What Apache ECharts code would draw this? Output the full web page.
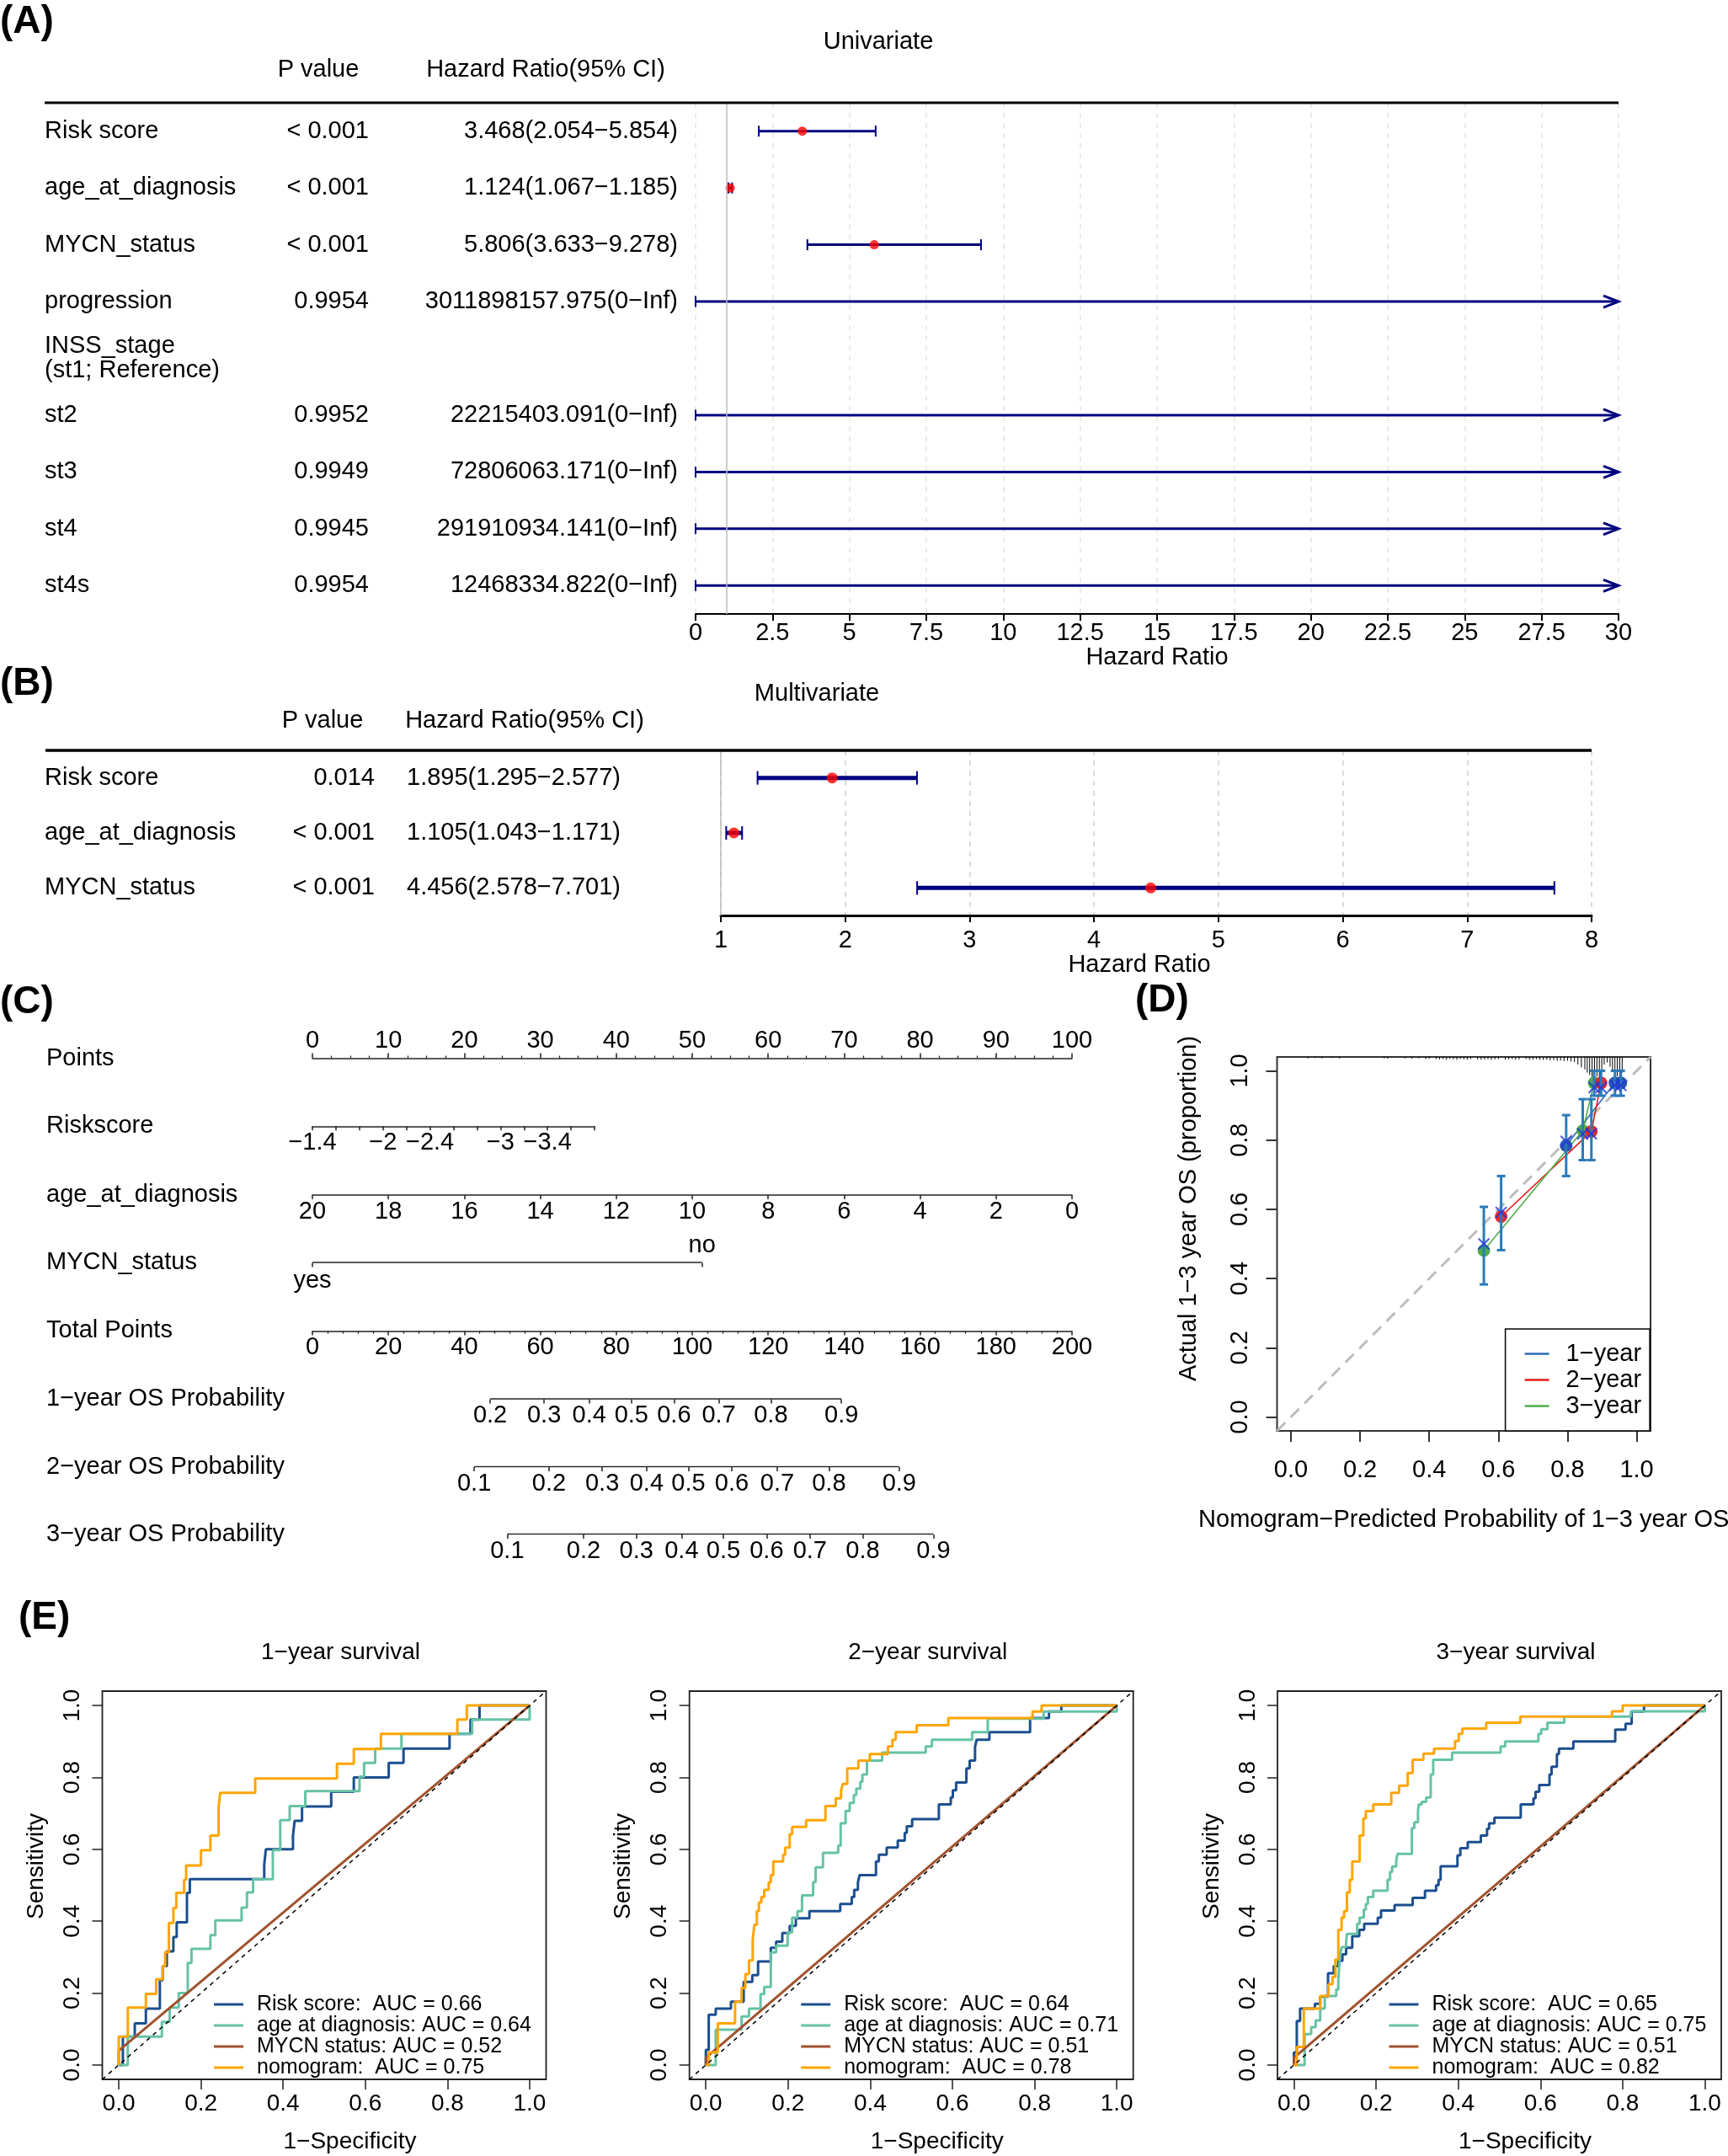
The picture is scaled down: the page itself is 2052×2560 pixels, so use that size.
<!DOCTYPE html>
<html>
<head>
<meta charset="utf-8">
<script src="https://cdn.jsdelivr.net/npm/echarts@6/dist/echarts.min.js"></script>
<style>html,body{margin:0;padding:0;background:#fff}#c{width:2052px;height:2560px}</style>
</head>
<body>
<div id="c"></div>
<script>
// ================= DATA =================
// (A) Univariate Cox
const uniVars = ['Risk score','age_at_diagnosis','MYCN_status','progression','INSS_stage\n(st1; Reference)','st2','st3','st4','st4s'];
const uniP = ['< 0.001','< 0.001','< 0.001','0.9954','','0.9952','0.9949','0.9945','0.9954'];
const uniHRText = ['3.468(2.054\u22125.854)','1.124(1.067\u22121.185)','5.806(3.633\u22129.278)','3011898157.975(0\u2212Inf)','','22215403.091(0\u2212Inf)','72806063.171(0\u2212Inf)','291910934.141(0\u2212Inf)','12468334.822(0\u2212Inf)'];
const uniHR = [3.468,1.124,5.806,3011898157.975,null,22215403.091,72806063.171,291910934.141,12468334.822];
const uniLo = [2.054,1.067,3.633,0,null,0,0,0,0];
const uniHi = [5.854,1.185,9.278,Infinity,null,Infinity,Infinity,Infinity,Infinity];
// (B) Multivariate Cox
const multiVars = ['Risk score','age_at_diagnosis','MYCN_status'];
const multiP = ['0.014','< 0.001','< 0.001'];
const multiHRText = ['1.895(1.295\u22122.577)','1.105(1.043\u22121.171)','4.456(2.578\u22127.701)'];
const multiHR = [1.895,1.105,4.456];
const multiLo = [1.295,1.043,2.578];
const multiHi = [2.577,1.171,7.701];
// (C) Nomogram
const riskscoreLabels = [-1.4,-2,-2.4,-3,-3.4];
const mycnLevels = ['yes','no'];
const mycnPoints = [0,51.3];
const os1Labels = [0.2,0.3,0.4,0.5,0.6,0.7,0.8,0.9];
const os1Total = [46.8,61.0,72.9,84.0,95.2,107.0,120.7,139.3];
const os2Labels = [0.1,0.2,0.3,0.4,0.5,0.6,0.7,0.8,0.9];
const os2Total = [42.6,62.3,76.3,88.0,99.0,110.4,122.4,136.0,154.5];
const os3Labels = [0.1,0.2,0.3,0.4,0.5,0.6,0.7,0.8,0.9];
const os3Total = [51.3,71.4,85.3,97.2,108.2,119.6,131.0,144.9,163.5];
// (D) Calibration
const calTicks = [0,0.2,0.4,0.6,0.8,1.0];
const cal1Pred = [0.796,0.937,0.954], cal1Obs = [0.784,0.965,0.965], cal1Lo = [0.696,0.928,0.928], cal1Hi = [0.872,1.0,1.0], cal1Corr = [0.796,0.958,0.958];
const cal2Pred = [0.608,0.869,0.897], cal2Obs = [0.579,0.825,0.965], cal2Lo = [0.482,0.742,0.928], cal2Hi = [0.696,0.918,1.0], cal2Corr = [0.591,0.818,0.952];
const cal3Pred = [0.558,0.844,0.877], cal3Obs = [0.481,0.827,0.965], cal3Lo = [0.383,0.742,0.928], cal3Hi = [0.607,0.918,1.0], cal3Corr = [0.500,0.818,0.952];
const calRug = [[0.05,0.004],[0.07,0.003],[0.09,0.004],[0.12,0.003],[0.14,0.004],[0.27,0.004],[0.28,0.005],[0.33,0.004],[0.35,0.005],[0.37,0.004],[0.39,0.006],[0.40,0.005],[0.42,0.006],[0.43,0.007],[0.44,0.006],[0.45,0.008],[0.46,0.006],[0.47,0.007],[0.48,0.008],[0.49,0.006],[0.50,0.007],[0.51,0.008],[0.52,0.006],[0.54,0.007],[0.55,0.008],[0.56,0.007],[0.57,0.006],[0.58,0.008],[0.59,0.007],[0.60,0.006],[0.62,0.008],[0.63,0.007],[0.64,0.006],[0.65,0.008],[0.66,0.007],[0.68,0.006],[0.69,0.008],[0.70,0.007],[0.71,0.006],[0.72,0.008],[0.73,0.009],[0.74,0.008],[0.75,0.010],[0.76,0.009],[0.77,0.011],[0.78,0.010],[0.79,0.012],[0.80,0.011],[0.81,0.013],[0.82,0.015],[0.83,0.022],[0.84,0.030],[0.85,0.036],[0.857,0.045],[0.864,0.052],[0.871,0.058],[0.878,0.050],[0.885,0.056],[0.892,0.060],[0.899,0.040],[0.906,0.022],[0.915,0.016],[0.923,0.028],[0.93,0.038],[0.937,0.048],[0.944,0.056],[0.951,0.060],[0.958,0.045]];
// (E) ROC curves  [1-specificity, sensitivity]
const rocTicks = [0,0.2,0.4,0.6,0.8,1.0];
const rocTitles = ['1\u2212year survival','2\u2212year survival','3\u2212year survival'];
const rocAUC1 = [0.66,0.64,0.52,0.75];
const rocAUC2 = [0.64,0.71,0.51,0.78];
const rocAUC3 = [0.65,0.75,0.51,0.82];
const roc1Risk = [[0,0],[0.01,0.079],[0.039,0.116],[0.066,0.157],[0.1,0.236],[0.107,0.275],[0.117,0.316],[0.133,0.356],[0.141,0.397],[0.166,0.479],[0.173,0.517],[0.354,0.557],[0.358,0.6],[0.424,0.638],[0.428,0.679],[0.446,0.719],[0.517,0.76],[0.572,0.8],[0.657,0.84],[0.693,0.88],[0.805,0.921],[0.856,0.961],[0.878,1],[1,1]];
const roc1Age = [[0,0],[0.022,0.079],[0.105,0.12],[0.124,0.16],[0.146,0.2],[0.168,0.284],[0.177,0.323],[0.223,0.361],[0.235,0.402],[0.299,0.438],[0.312,0.48],[0.327,0.517],[0.375,0.598],[0.393,0.681],[0.416,0.72],[0.454,0.762],[0.586,0.802],[0.597,0.84],[0.624,0.88],[0.688,0.921],[0.86,0.961],[0.957,0.961],[1,1]];
const roc1Mycn = [[0,0],[0,0.04],[1,1]];
const roc1Nomo = [[0,0],[0,0.079],[0.022,0.16],[0.066,0.198],[0.091,0.238],[0.107,0.275],[0.113,0.314],[0.122,0.395],[0.133,0.437],[0.14,0.479],[0.159,0.515],[0.164,0.555],[0.2,0.597],[0.223,0.638],[0.243,0.718],[0.247,0.757],[0.332,0.797],[0.531,0.838],[0.572,0.879],[0.638,0.921],[0.824,0.961],[0.847,1],[1,1]];
const roc2Risk = [[0,0],[0,0.042],[0.007,0.14],[0.024,0.157],[0.061,0.176],[0.092,0.231],[0.113,0.25],[0.127,0.288],[0.158,0.326],[0.171,0.343],[0.186,0.367],[0.204,0.387],[0.219,0.408],[0.252,0.428],[0.327,0.448],[0.355,0.467],[0.361,0.487],[0.37,0.508],[0.374,0.528],[0.414,0.566],[0.421,0.585],[0.44,0.605],[0.467,0.624],[0.484,0.646],[0.489,0.664],[0.502,0.684],[0.567,0.725],[0.596,0.744],[0.601,0.764],[0.609,0.786],[0.634,0.825],[0.642,0.847],[0.655,0.885],[0.659,0.905],[0.69,0.926],[0.789,0.965],[0.835,0.983],[0.865,1],[1,1]];
const roc2Age = [[0,0],[0.024,0.098],[0.087,0.135],[0.105,0.157],[0.133,0.197],[0.142,0.217],[0.158,0.313],[0.171,0.332],[0.199,0.369],[0.21,0.41],[0.223,0.428],[0.234,0.472],[0.261,0.509],[0.267,0.55],[0.285,0.59],[0.322,0.61],[0.328,0.672],[0.34,0.707],[0.35,0.729],[0.36,0.751],[0.366,0.769],[0.376,0.788],[0.381,0.808],[0.392,0.847],[0.429,0.869],[0.535,0.886],[0.55,0.905],[0.648,0.926],[0.686,0.963],[0.822,0.983],[0.954,0.983],[1,1]];
const roc2Mycn = [[0,0],[0,0.02],[1,1]];
const roc2Nomo = [[0,0],[0.007,0.035],[0.029,0.116],[0.071,0.176],[0.087,0.214],[0.096,0.253],[0.105,0.291],[0.114,0.349],[0.118,0.39],[0.124,0.428],[0.129,0.452],[0.135,0.467],[0.142,0.487],[0.153,0.508],[0.158,0.528],[0.164,0.566],[0.188,0.585],[0.193,0.605],[0.204,0.642],[0.21,0.662],[0.244,0.681],[0.291,0.72],[0.316,0.742],[0.329,0.762],[0.333,0.782],[0.344,0.825],[0.371,0.847],[0.399,0.865],[0.443,0.886],[0.454,0.905],[0.462,0.926],[0.513,0.945],[0.59,0.965],[0.795,0.983],[0.817,1],[1,1]];
const roc3Risk = [[0,0],[0,0.035],[0.007,0.122],[0.015,0.157],[0.051,0.17],[0.064,0.19],[0.083,0.255],[0.097,0.275],[0.108,0.29],[0.118,0.308],[0.127,0.326],[0.142,0.358],[0.159,0.376],[0.171,0.393],[0.204,0.41],[0.212,0.43],[0.245,0.445],[0.289,0.465],[0.319,0.485],[0.346,0.5],[0.352,0.515],[0.357,0.553],[0.398,0.583],[0.405,0.603],[0.423,0.62],[0.455,0.638],[0.47,0.657],[0.475,0.672],[0.488,0.688],[0.552,0.725],[0.583,0.742],[0.588,0.76],[0.597,0.779],[0.622,0.808],[0.627,0.83],[0.64,0.865],[0.645,0.88],[0.68,0.9],[0.782,0.933],[0.807,0.949],[0.822,0.983],[0.852,1],[1,1]];
const roc3Age = [[0,0],[0.026,0.086],[0.042,0.105],[0.053,0.124],[0.064,0.157],[0.075,0.192],[0.103,0.21],[0.108,0.236],[0.112,0.301],[0.116,0.328],[0.127,0.341],[0.129,0.365],[0.154,0.393],[0.16,0.41],[0.17,0.432],[0.175,0.448],[0.18,0.467],[0.193,0.485],[0.228,0.515],[0.234,0.537],[0.239,0.552],[0.249,0.568],[0.252,0.587],[0.287,0.659],[0.293,0.675],[0.302,0.707],[0.304,0.725],[0.311,0.732],[0.322,0.744],[0.333,0.808],[0.339,0.849],[0.385,0.869],[0.503,0.886],[0.514,0.9],[0.595,0.921],[0.602,0.934],[0.617,0.952],[0.658,0.969],[0.82,0.984],[0.953,0.984],[1,1]];
const roc3Mycn = [[0,0],[0,0.02],[1,1]];
const roc3Nomo = [[0,0],[0.007,0.05],[0.024,0.157],[0.064,0.192],[0.084,0.225],[0.094,0.245],[0.101,0.293],[0.108,0.376],[0.116,0.41],[0.122,0.428],[0.129,0.48],[0.136,0.515],[0.142,0.566],[0.16,0.638],[0.169,0.686],[0.175,0.706],[0.193,0.725],[0.237,0.757],[0.256,0.777],[0.277,0.812],[0.289,0.849],[0.315,0.866],[0.341,0.88],[0.392,0.901],[0.401,0.921],[0.41,0.936],[0.468,0.952],[0.551,0.969],[0.774,0.984],[0.8,1],[1,1]];
const refDiag = [[-0.04,-0.04],[1.04,1.04]];

// ================= BUILD =================
const FONT = '"Liberation Sans", Arial, Helvetica, sans-serif';
const MINUS = '\u2212';
const fmtMinus = v => String(v).replace('-', MINUS);
const opt = {animation:false, backgroundColor:'#fff', textStyle:{fontFamily:FONT, color:'#000'},
  grid:[], xAxis:[], yAxis:[], series:[], legend:[], graphic:{elements:[]}};
function addGrid(g){ opt.grid.push(Object.assign({outerBoundsMode:'none', containLabel:false}, g)); return opt.grid.length-1; }
function addX(a){ opt.xAxis.push(a); return opt.xAxis.length-1; }
function addY(a){ opt.yAxis.push(a); return opt.yAxis.length-1; }
function txt(text, x, y, o){ o = o||{};
  opt.graphic.elements.push({type:'text', x:x, y:y, rotation:o.rot||0, z:50,
    style:{text:text, fontSize:o.size||29, fontWeight:o.bold?'bold':'normal', fontFamily:FONT, fill:'#000',
      align:o.align||'center', verticalAlign:'middle', textAlign:o.align||'center', textVerticalAlign:'middle'}});
}
function hline(x1,x2,y,w){ opt.graphic.elements.push({type:'line', z:50, shape:{x1:x1,y1:y,x2:x2,y2:y}, style:{stroke:'#000', lineWidth:w}}); }

// ---------- forest helper ----------
function forestRender(color, lw, capH, arrowLen, arrowHalf){
  return function(params, api){
    const lo = api.value(0), hi = api.value(1), row = api.value(2), arrow = api.value(3);
    const p1 = api.coord([lo,row]), p2 = api.coord([hi,row]);
    const y = p1[1];
    const ch = [
      {type:'line', shape:{x1:p1[0],y1:y,x2:p2[0],y2:y}, style:{stroke:color, lineWidth:lw}},
      {type:'line', shape:{x1:p1[0],y1:y-capH/2,x2:p1[0],y2:y+capH/2}, style:{stroke:color, lineWidth:2}}
    ];
    if (arrow) ch.push({type:'polyline', shape:{points:[[p2[0]-arrowLen,y-arrowHalf],[p2[0],y],[p2[0]-arrowLen,y+arrowHalf]]}, style:{stroke:color, fill:'none', lineWidth:lw}});
    else ch.push({type:'line', shape:{x1:p2[0],y1:y-capH/2,x2:p2[0],y2:y+capH/2}, style:{stroke:color, lineWidth:2}});
    return {type:'group', children:ch};
  };
}
function buildForest(cfg){
  const g = addGrid({left:cfg.left, top:cfg.top, width:cfg.width, height:cfg.height});
  const xi = addX({gridIndex:g, type:'value', min:cfg.min, max:cfg.max, interval:cfg.interval,
    axisLine:{show:true, onZero:false, lineStyle:{color:'#000', width:cfg.axisW}},
    axisTick:{show:true, length:8, lineStyle:{color:'#000', width:2}},
    axisLabel:{fontSize:29, color:'#000', margin:cfg.labelMargin},
    splitLine:{show:true, lineStyle:{type:[6,6], color:cfg.gridColor, width:1.5}},
    name:'Hazard Ratio', nameLocation:'middle', nameGap:cfg.nameGap,
    nameTextStyle:{fontSize:29, color:'#000', padding:cfg.namePad||0}});
  const lab = (data, margin, align) => addY({gridIndex:g, type:'category', position:'left', offset:0, inverse:true, data:data,
    axisLine:{show:false}, axisTick:{show:false}, splitLine:{show:false},
    axisLabel:{interval:0, margin:margin, align:align, fontSize:29, color:'#000', lineHeight:29, padding:[0,0,10,0]}});
  const y0 = lab(cfg.vars, cfg.left-53, 'left');
  lab(cfg.p, cfg.left-cfg.pRight, 'right');
  lab(cfg.hrText, cfg.left-cfg.hrRight, 'right');
  const bars = [];
  cfg.lo.forEach((lo,i)=>{ if(lo===null) return; const hi = cfg.hi[i];
    bars.push([lo, isFinite(hi)?Math.min(hi,cfg.max):cfg.max, i, isFinite(hi)?0:1]); });
  opt.series.push({type:'custom', xAxisIndex:xi, yAxisIndex:y0, renderItem:forestRender('#00007F', cfg.barW, cfg.capH, 18, 7),
    encode:{x:[0,1], y:2}, data:bars, z:3});
  const pts = [];
  cfg.hr.forEach((v,i)=>{ if(v!==null && v<=cfg.max) pts.push([v,i]); });
  opt.series.push({type:'scatter', xAxisIndex:xi, yAxisIndex:y0, data:pts, symbolSize:cfg.dot, itemStyle:{color:'#FF0000'}, z:4,
    markLine:{silent:true, symbol:'none', label:{show:false}, lineStyle:{color:'#BDBDBD', width:1.5, type:'solid'}, data:[{xAxis:1}]}});
}

// ---------- (A) ----------
buildForest({left:826, top:122, width:1096, height:607, min:0, max:30, interval:2.5, axisW:2, labelMargin:8, nameGap:36,
  gridColor:'#E4E4E4', vars:uniVars, p:uniP, hrText:uniHRText, pRight:438, hrRight:805,
  lo:uniLo, hi:uniHi, hr:uniHR, barW:3, capH:13, dot:11});
hline(53,1922,122,3);
txt('(A)', 0, 26, {size:46, bold:true, align:'left'});
txt('Univariate', 1043, 50);
txt('P value', 378, 83);
txt('Hazard Ratio(95% CI)', 648, 83);

// ---------- (B) ----------
buildForest({left:856, top:891, width:1034, height:196, min:1, max:8, interval:1, axisW:3, labelMargin:15, nameGap:27,
  namePad:[0,40,0,0], gridColor:'#D0D0D0', vars:multiVars, p:multiP, hrText:multiHRText, pRight:445, hrRight:737,
  lo:multiLo, hi:multiHi, hr:multiHR, barW:5, capH:16, dot:13});
hline(54,1890,891,3.5);
txt('(B)', 0, 812, {size:46, bold:true, align:'left'});
txt('Multivariate', 970, 824);
txt('P value', 383, 856);
txt('Hazard Ratio(95% CI)', 623, 856);

// ---------- (C) Nomogram ----------
txt('(C)', 0, 1190, {size:46, bold:true, align:'left'});
const NL = 371, NW = 902;
const LINE = {show:true, onZero:false, lineStyle:{color:'#222', width:1.5}};
const TICK = (len) => ({show:true, length:len, lineStyle:{color:'#222', width:1.5}});
function nomY(g, label){ return addY({gridIndex:g, type:'category', data:[label], axisLine:{show:false}, axisTick:{show:false},
  splitLine:{show:false}, axisLabel:{interval:0, margin:NL-55, align:'left', fontSize:29, color:'#000'}}); }
// Points
let g = addGrid({left:NL, width:NW, top:1256.5, height:1});
addX({gridIndex:g, type:'value', position:'top', min:0, max:100, interval:10, axisLine:LINE, axisTick:TICK(6),
  minorTick:{show:true, splitNumber:4, length:3, lineStyle:{color:'#222', width:1.2}},
  axisLabel:{fontSize:29, color:'#000', margin:6}, splitLine:{show:false}, minorSplitLine:{show:false}});
nomY(g, 'Points');
// Riskscore
g = addGrid({left:NL, width:335, top:1336.3, height:1});
addX({gridIndex:g, type:'value', min:-3.8, max:-1.4, interval:0.2, inverse:true, axisLine:LINE, axisTick:TICK(5),
  axisLabel:{customValues:riskscoreLabels, formatter:fmtMinus, fontSize:29, color:'#000', margin:5}, splitLine:{show:false}});
nomY(g, 'Riskscore');
// age
g = addGrid({left:NL, width:NW, top:1418, height:1});
addX({gridIndex:g, type:'value', min:0, max:20, interval:2, inverse:true, axisLine:LINE, axisTick:TICK(5),
  axisLabel:{fontSize:29, color:'#000', margin:5}, splitLine:{show:false}});
nomY(g, 'age_at_diagnosis');
// MYCN
g = addGrid({left:NL, width:NW, top:1498.5, height:1});
let xm = addX({gridIndex:g, type:'value', min:0, max:100, axisLine:{show:false, onZero:false}, axisTick:{show:true, customValues:mycnPoints, length:5, lineStyle:{color:'#222', width:1.5}},
  axisLabel:{customValues:[mycnPoints[0]], formatter:v=>mycnLevels[0], fontSize:29, color:'#000', margin:7}, splitLine:{show:false}});
addX({gridIndex:g, type:'value', position:'top', min:0, max:100, axisLine:{show:false, onZero:false}, axisTick:{show:false},
  axisLabel:{customValues:[mycnPoints[1]], formatter:v=>mycnLevels[1], fontSize:29, color:'#000', margin:5}, splitLine:{show:false}});
let ym = nomY(g, 'MYCN_status');
opt.series.push({type:'line', xAxisIndex:xm, yAxisIndex:ym, data:mycnPoints.map(p=>[p,0]), symbol:'none', lineStyle:{color:'#222', width:1.5}});
// Total points
g = addGrid({left:NL, width:NW, top:1579.6, height:1});
addX({gridIndex:g, type:'value', min:0, max:200, interval:20, axisLine:LINE, axisTick:TICK(5),
  minorTick:{show:true, splitNumber:5, length:3, lineStyle:{color:'#222', width:1.2}},
  axisLabel:{fontSize:29, color:'#000', margin:5}, splitLine:{show:false}, minorSplitLine:{show:false}});
nomY(g, 'Total Points');
// probability rows
function probRow(lineY, label, labels, totals){
  const gg = addGrid({left:NL, width:NW, top:lineY-1, height:1});
  const xx = addX({gridIndex:gg, type:'value', min:0, max:200, axisLine:{show:false, onZero:false},
    axisTick:{show:true, customValues:totals, length:5, lineStyle:{color:'#222', width:1.5}},
    axisLabel:{customValues:totals, fontSize:29, color:'#000', margin:5,
      formatter:v=>{ let bi=0, bd=1e9; totals.forEach((t,i)=>{const d=Math.abs(t-v); if(d<bd){bd=d;bi=i;}}); return labels[bi].toFixed(1); }},
    splitLine:{show:false}});
  const yy = nomY(gg, label);
  opt.series.push({type:'line', xAxisIndex:xx, yAxisIndex:yy, data:[[totals[0],0],[totals[totals.length-1],0]], symbol:'none', lineStyle:{color:'#222', width:1.5}});
}
probRow(1661.4, '1\u2212year OS Probability', os1Labels, os1Total);
probRow(1742, '2\u2212year OS Probability', os2Labels, os2Total);
probRow(1822, '3\u2212year OS Probability', os3Labels, os3Total);

// ---------- (D) Calibration ----------
txt('(D)', 1348, 1188, {size:46, bold:true, align:'left'});
const gD = addGrid({left:1516.5, top:1255, width:443.5, height:444, show:true, borderColor:'#333', borderWidth:2, backgroundColor:'transparent'});
const axD = (isY) => ({gridIndex:gD, type:'value', min:-0.04, max:1.04, axisLine:{show:false, onZero:false},
  axisTick:{show:true, customValues:calTicks, length:13, lineStyle:{color:'#333', width:2}},
  axisLabel:{customValues:calTicks, formatter:v=>v.toFixed(1), fontSize:29, color:'#000', margin:isY?29:32, rotate:isY?90:0},
  splitLine:{show:false}});
const xD = addX(Object.assign(axD(false), {name:'Nomogram\u2212Predicted Probability of 1\u22123 year OS', nameLocation:'middle', nameGap:91, nameTextStyle:{fontSize:29, color:'#000'}}));
const yD = addY(axD(true));
txt('Actual 1\u22123 year OS (proportion)', 1411.5, 1435, {rot:Math.PI/2});
opt.series.push({type:'line', xAxisIndex:xD, yAxisIndex:yD, data:refDiag, symbol:'none', silent:true, lineStyle:{color:'#BDBDBD', width:3, type:[14,9]}, z:1});
opt.series.push({type:'custom', xAxisIndex:xD, yAxisIndex:yD, data:calRug, encode:{x:0, y:1}, z:2,
  renderItem:(p,api)=>{ const a = api.coord([api.value(0),1.04]); const b = api.coord([api.value(0),1.04-api.value(1)]);
    return {type:'line', shape:{x1:a[0],y1:a[1],x2:b[0],y2:b[1]}, style:{stroke:'#000', lineWidth:1}}; }});
const calSets = [
  {name:'1\u2212year', color:'#2A6CB5', dot:'#1F4FA8', pred:cal1Pred, obs:cal1Obs, lo:cal1Lo, hi:cal1Hi, corr:cal1Corr},
  {name:'2\u2212year', color:'#E41A1C', dot:'#E0202A', pred:cal2Pred, obs:cal2Obs, lo:cal2Lo, hi:cal2Hi, corr:cal2Corr},
  {name:'3\u2212year', color:'#4DAF4A', dot:'#45A845', pred:cal3Pred, obs:cal3Obs, lo:cal3Lo, hi:cal3Hi, corr:cal3Corr}
];
calSets.forEach(s=>{
  opt.series.push({type:'line', name:s.name, xAxisIndex:xD, yAxisIndex:yD, data:s.pred.map((x,i)=>[x,s.obs[i]]), symbol:'none',
    lineStyle:{color:s.color, width:1.6}, itemStyle:{color:s.color}, z:3});
});
calSets.slice().reverse().forEach(s=>{
  opt.series.push({type:'scatter', xAxisIndex:xD, yAxisIndex:yD, data:s.pred.map((x,i)=>[x,s.obs[i]]), symbolSize:15,
    itemStyle:{color:s.dot, opacity:0.95}, z:4});
});
calSets.forEach(s=>{
  opt.series.push({type:'custom', xAxisIndex:xD, yAxisIndex:yD, encode:{x:0, y:[1,2]}, z:5,
    data:s.pred.map((x,i)=>[x,s.lo[i],s.hi[i]]),
    renderItem:(p,api)=>{ const a = api.coord([api.value(0),api.value(1)]); const b = api.coord([api.value(0),api.value(2)]);
      const st = {stroke:'#2B7BBA', lineWidth:3};
      return {type:'group', children:[
        {type:'line', shape:{x1:a[0],y1:a[1],x2:b[0],y2:b[1]}, style:st},
        {type:'line', shape:{x1:a[0]-5,y1:a[1],x2:a[0]+5,y2:a[1]}, style:st},
        {type:'line', shape:{x1:b[0]-5,y1:b[1],x2:b[0]+5,y2:b[1]}, style:st}]}; }});
  opt.series.push({type:'scatter', xAxisIndex:xD, yAxisIndex:yD, data:s.pred.map((x,i)=>[x,s.corr[i]]), symbol:'path://M0,0L10,10M10,0L0,10',
    symbolSize:13, itemStyle:{color:'none', borderColor:'#2233DD', borderWidth:2}, z:6});
});
opt.legend.push({left:1787.6, top:1578, orient:'vertical', data:calSets.map(s=>s.name), icon:'rect', itemWidth:29, itemHeight:2.5,
  itemGap:0, padding:[14,10,14,23], borderColor:'#000', borderWidth:1.5, backgroundColor:'#fff', selectedMode:false, z:20,
  textStyle:{fontSize:29, color:'#000', lineHeight:31, padding:[0,0,0,15]}});

// ---------- (E) ROC ----------
txt('(E)', 22, 1921, {size:46, bold:true, align:'left'});
const rocLefts = [121.5, 818.7, 1517];
const rocSets = [[roc1Risk,roc1Age,roc1Mycn,roc1Nomo],[roc2Risk,roc2Age,roc2Mycn,roc2Nomo],[roc3Risk,roc3Age,roc3Mycn,roc3Nomo]];
const rocAUCs = [rocAUC1, rocAUC2, rocAUC3];
const rocPrefix = ['Risk score:  AUC = ','age at diagnosis: AUC = ','MYCN status: AUC = ','nomogram:  AUC = '];
const rocColors = ['#1B4F8F','#66C2A5','#A0522D','#FFA500'];
rocLefts.forEach((L,k)=>{
  const gg = addGrid({left:L, top:2008, width:527, height:461, show:true, borderColor:'#222', borderWidth:1.8, backgroundColor:'transparent'});
  const ax = (isY) => ({gridIndex:gg, type:'value', min:-0.04, max:1.04, axisLine:{show:false, onZero:false},
    axisTick:{show:true, customValues:rocTicks, length:12, lineStyle:{color:'#222', width:1.5}},
    axisLabel:{customValues:rocTicks, formatter:v=>v.toFixed(1), fontSize:28, color:'#000', margin:isY?21:15, rotate:isY?90:0},
    splitLine:{show:false}});
  const xx = addX(ax(false)), yy = addY(ax(true));
  txt(rocTitles[k], L+283, 1962, {size:28});
  txt('1\u2212Specificity', L+294, 2543, {size:28});
  txt('Sensitivity', L-78, 2216, {size:28, rot:Math.PI/2});
  opt.series.push({type:'line', xAxisIndex:xx, yAxisIndex:yy, data:refDiag, symbol:'none', silent:true, lineStyle:{color:'#000', width:1.5, type:[5,5]}, z:6});
  const names = rocPrefix.map((p,i)=>p+rocAUCs[k][i].toFixed(2));
  rocSets[k].forEach((d,i)=>{
    opt.series.push({type:'line', name:names[i], xAxisIndex:xx, yAxisIndex:yy, data:d, step:(i===2?false:'end'), symbol:'none',
      lineStyle:{color:rocColors[i], width:3}, itemStyle:{color:rocColors[i]}, z:(i===3?5:(i===2?4:3))});
  });
  opt.legend.push({left:L+132.5, top:2367.5, orient:'vertical', data:names, icon:'rect', itemWidth:35, itemHeight:3, itemGap:0,
    padding:0, selectedMode:false, z:20, textStyle:{fontSize:25, color:'#000', lineHeight:22, padding:[0,0,0,11]}});
});

const chart = echarts.init(document.getElementById('c'), null, {renderer:'canvas', width:2052, height:2560});
chart.setOption(opt);
</script>
</body>
</html>
